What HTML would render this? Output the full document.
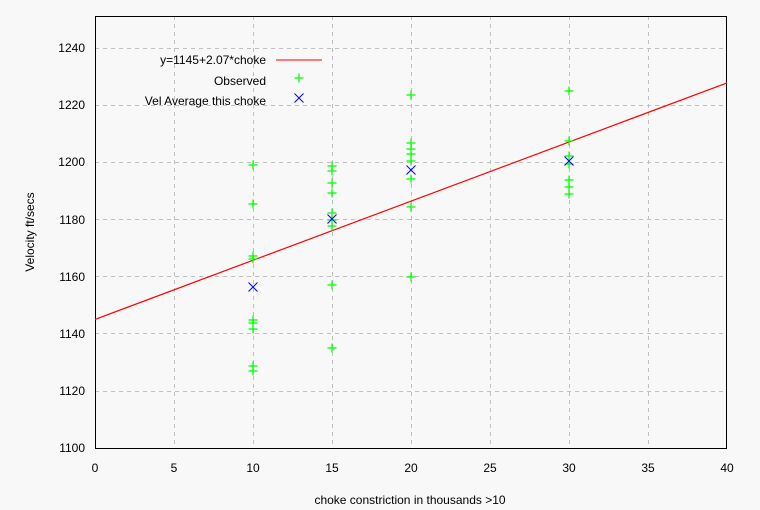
<!DOCTYPE html>
<html><head><style>body{margin:0;background:#f8f8f8}svg{display:block;font-family:"Liberation Sans",sans-serif;font-size:12px}</style></head><body>
<svg width="760" height="510" xmlns="http://www.w3.org/2000/svg">
<rect width="760" height="510" fill="#f8f8f8"/>
<g stroke="#c0c0c0" stroke-dasharray="4,4" stroke-width="1">
<line x1="174.5" y1="16" x2="174.5" y2="448"/><line x1="253.5" y1="16" x2="253.5" y2="448"/><line x1="332.5" y1="16" x2="332.5" y2="448"/><line x1="411.5" y1="16" x2="411.5" y2="448"/><line x1="490.5" y1="16" x2="490.5" y2="448"/><line x1="569.5" y1="16" x2="569.5" y2="448"/><line x1="648.5" y1="16" x2="648.5" y2="448"/>
<line x1="95" y1="48.5" x2="727" y2="48.5"/><line x1="95" y1="105.5" x2="727" y2="105.5"/><line x1="95" y1="162.5" x2="727" y2="162.5"/><line x1="95" y1="219.5" x2="727" y2="219.5"/><line x1="95" y1="276.5" x2="727" y2="276.5"/><line x1="95" y1="333.5" x2="727" y2="333.5"/><line x1="95" y1="391.5" x2="727" y2="391.5"/>
</g>
<rect x="95.5" y="16.5" width="631" height="432" fill="none" stroke="#000"/>
<g fill="#000" text-anchor="end">
<text x="85" y="452">1100</text><text x="85" y="395">1120</text><text x="85" y="338">1140</text><text x="85" y="281">1160</text><text x="85" y="224">1180</text><text x="85" y="166">1200</text><text x="85" y="109">1220</text><text x="85" y="52">1240</text>
</g>
<g fill="#000" text-anchor="middle">
<text x="95" y="472">0</text><text x="174" y="472">5</text><text x="253" y="472">10</text><text x="332" y="472">15</text><text x="411" y="472">20</text><text x="490" y="472">25</text><text x="569" y="472">30</text><text x="648" y="472">35</text><text x="727" y="472">40</text>
<text x="410" y="504">choke constriction in thousands &gt;10</text>
<text transform="translate(34,232) rotate(-90)">Velocity ft/secs</text>
</g>
<g fill="#000" text-anchor="end"><text x="266" y="64">y=1145+2.07*choke</text><text x="266" y="85">Observed</text><text x="266" y="105">Vel Average this choke</text></g>
<line x1="276" y1="60" x2="322" y2="60" stroke="#f00"/>
<line x1="95" y1="319.4" x2="727" y2="82.9" stroke="#f00" stroke-width="1.2"/>
<defs><path id="p" d="M-4.5,0H4.5M0,-4.5V4.5" stroke="#0f0" stroke-width="1.2"/><path id="x" d="M-4.5,-4.5L4.5,4.5M-4.5,4.5L4.5,-4.5" stroke="#00f" stroke-width="1"/></defs>
<use href="#p" x="299" y="78"/><use href="#x" x="299" y="98"/>
<g>
<use href="#p" x="253" y="165"/><use href="#p" x="253" y="204"/><use href="#p" x="253" y="256"/><use href="#p" x="253" y="259"/><use href="#p" x="253" y="320"/><use href="#p" x="253" y="323"/><use href="#p" x="253" y="329"/><use href="#p" x="253" y="366"/><use href="#p" x="253" y="371"/>
<use href="#p" x="332" y="166"/><use href="#p" x="332" y="171"/><use href="#p" x="332" y="183"/><use href="#p" x="332" y="193"/><use href="#p" x="332" y="213"/><use href="#p" x="332" y="220"/><use href="#p" x="332" y="226"/><use href="#p" x="332" y="285"/><use href="#p" x="332" y="348"/>
<use href="#p" x="411" y="95"/><use href="#p" x="411" y="143"/><use href="#p" x="411" y="149"/><use href="#p" x="411" y="154"/><use href="#p" x="411" y="161"/><use href="#p" x="411" y="179"/><use href="#p" x="411" y="207"/><use href="#p" x="411" y="277"/>
<use href="#p" x="569" y="91"/><use href="#p" x="569" y="141"/><use href="#p" x="569" y="156"/><use href="#p" x="569" y="164"/><use href="#p" x="569" y="180"/><use href="#p" x="569" y="187"/><use href="#p" x="569" y="194"/>
<use href="#x" x="253" y="287"/><use href="#x" x="332" y="219"/><use href="#x" x="411" y="170"/><use href="#x" x="569" y="161"/>
</g>
</svg>
</body></html>
